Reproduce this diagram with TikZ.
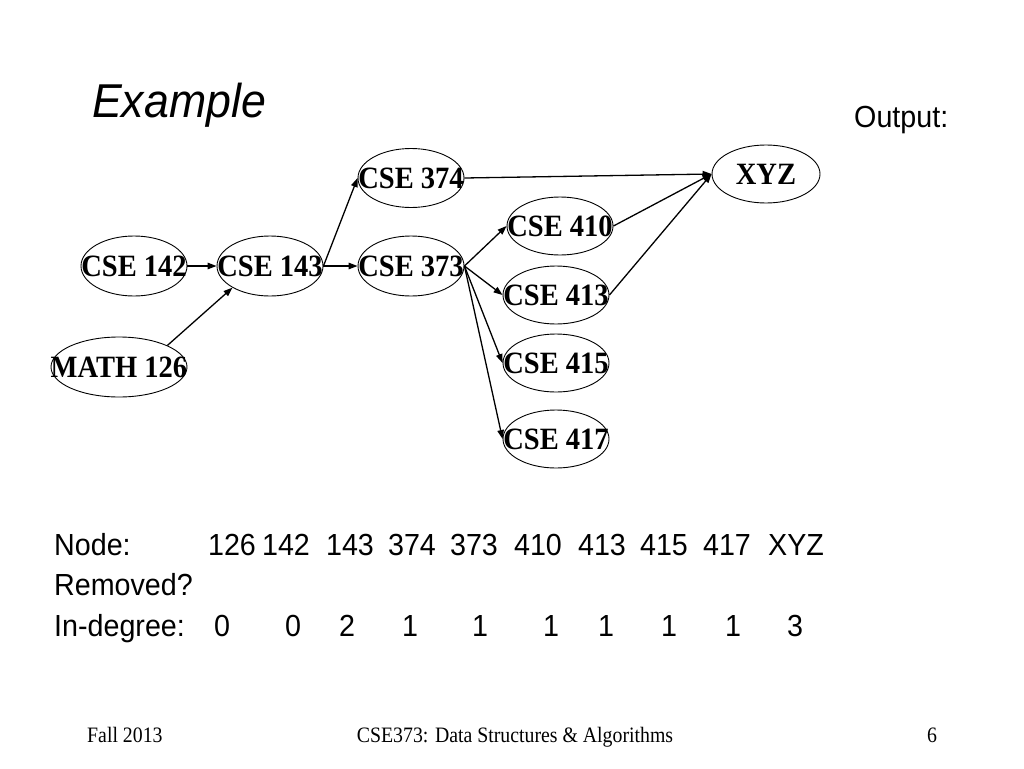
\documentclass[tikz,border=0pt]{standalone}
\usepackage{fontspec}
\usetikzlibrary{arrows.meta}
\usetikzlibrary{shapes.geometric}
\newfontfamily\slidesans[FakeStretch=0.94]{Liberation Sans}
\newfontfamily\slideserif[FakeStretch=0.92]{Liberation Serif}
\newfontfamily\footserif[FakeStretch=0.9]{Liberation Serif}
\newcommand{\crs}[1]{\makebox[0pt]{#1}}

\begin{document}
\begin{tikzpicture}[x=1pt,y=-1pt]
\tikzstyle{course}=[ellipse, draw, line width=0.9pt, inner sep=0pt,
    minimum width=106pt, minimum height=60pt,
    font=\slideserif\bfseries\fontsize{31}{31}\selectfont]
\tikzstyle{prereq}=[line width=1.3pt, -{Triangle[length=9pt,width=6.5pt]}]
\tikzstyle{body}=[inner sep=0pt, font=\slidesans\fontsize{30.5}{31}\selectfont]
\tikzstyle{foot}=[inner sep=0pt, font=\footserif\fontsize{22}{22}\selectfont]

\useasboundingbox (0,0) rectangle (1024,768);

\node[anchor=base west, inner sep=0pt,
    font=\slidesans\itshape\fontsize{47.5}{48}\selectfont] (title) at (92,117) {Example};
\node[body, anchor=base west] (output) at (854,127) {Output:};

% courses
\node[course] (c142) at (134,266) {\crs{CSE 142}};
\node[course] (c143) at (270,266) {\crs{CSE 143}};
\node[course, minimum width=136pt] (m126) at (119,367) {\crs{MATH 126}};
\node[course, minimum height=59pt] (c374) at (411,178) {\crs{CSE 374}};
\node[course] (c373) at (411,266) {\crs{CSE 373}};
\node[course, minimum height=58pt] (c410) at (560,226) {\crs{CSE 410}};
\node[course, minimum height=58pt] (c413) at (556,295) {\crs{CSE 413}};
\node[course, minimum height=58pt] (c415) at (556,363) {\crs{CSE 415}};
\node[course, minimum height=58pt] (c417) at (556,439) {\crs{CSE 417}};
\node[course, minimum width=108pt, minimum height=58pt] (xyz) at (766,174) {\crs{XYZ}};

\draw[prereq] (c142.east) -- (c143.west);
\draw[prereq] (m126.24) -- (c143.210);
\draw[prereq] (c143.east) -- (c374.west);
\draw[prereq] (c143.east) -- (c373.west);
\draw[prereq] (c374.east) -- (xyz.west);
\draw[prereq] (c373.east) -- (c410.west);
\draw[prereq] (c373.east) -- (c413.west);
\draw[prereq] (c373.east) -- (c415.west);
\draw[prereq] (c373.east) -- (c417.west);
\draw[prereq] (c410.east) -- (xyz.west);
\draw[prereq] (c413.east) -- (xyz.west);

% table
\node[body, anchor=base west] (rownode) at (54,555) {Node:};
\node[body, anchor=base west] (rowrem) at (54,595) {Removed?};
\node[body, anchor=base west] (rowdeg) at (54,636) {In-degree:};

\node[body, anchor=base] (n126) at (232,555) {126};
\node[body, anchor=base] (n142) at (286,555) {142};
\node[body, anchor=base] (n143) at (350,555) {143};
\node[body, anchor=base] (n374) at (412,555) {374};
\node[body, anchor=base] (n373) at (474,555) {373};
\node[body, anchor=base] (n410) at (538,555) {410};
\node[body, anchor=base] (n413) at (602,555) {413};
\node[body, anchor=base] (n415) at (664,555) {415};
\node[body, anchor=base] (n417) at (727,555) {417};
\node[body, anchor=base] (nxyz) at (796,555) {XYZ};

\node[body, anchor=base] (d126) at (222,636) {0};
\node[body, anchor=base] (d142) at (293,636) {0};
\node[body, anchor=base] (d143) at (347,636) {2};
\node[body, anchor=base] (d374) at (410,636) {1};
\node[body, anchor=base] (d373) at (480,636) {1};
\node[body, anchor=base] (d410) at (551,636) {1};
\node[body, anchor=base] (d413) at (606,636) {1};
\node[body, anchor=base] (d415) at (669,636) {1};
\node[body, anchor=base] (d417) at (733,636) {1};
\node[body, anchor=base] (dxyz) at (795,636) {3};

% footer
\node[foot, anchor=base west] (fall) at (87,742) {Fall 2013};
\node[foot, anchor=base] (course) at (515,742) {CSE373: Data Structures \& Algorithms};
\node[foot, anchor=base] (page) at (932,742) {6};
\end{tikzpicture}
\end{document}
